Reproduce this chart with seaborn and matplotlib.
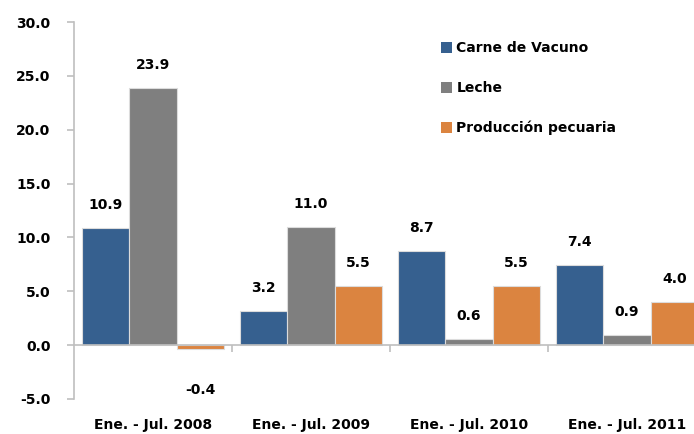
import matplotlib
matplotlib.use("Agg")
import matplotlib.pyplot as plt
import seaborn as sns
import pandas as pd

periodos = ["Ene. - Jul. 2008", "Ene. - Jul. 2009", "Ene. - Jul. 2010", "Ene. - Jul. 2011"]
series = ["Carne de Vacuno", "Leche", "Producción pecuaria"]
carne = [10.9, 3.2, 8.7, 7.4]
leche = [23.9, 11.0, 0.6, 0.9]
pecuaria = [-0.4, 5.5, 5.5, 4.0]
colores = ["#36608F", "#7F7F7F", "#DB8440"]

rows = []
for nombre, vals in zip(series, [carne, leche, pecuaria]):
    for p, v in zip(periodos, vals):
        rows.append({"periodo": p, "serie": nombre, "valor": v})
df = pd.DataFrame(rows)

sns.set_style("white")
plt.rcParams["font.family"] = ["DejaVu Sans"]
plt.rcParams["font.weight"] = "bold"
plt.rcParams["text.color"] = "black"
plt.rcParams["xtick.color"] = "black"
plt.rcParams["ytick.color"] = "black"

fig = plt.figure(figsize=(6.94, 4.34), dpi=100)
ax = fig.add_axes([74 / 694, 35 / 434, 632 / 694, 377 / 434])

sns.barplot(data=df, x="periodo", y="valor", hue="serie", palette=colores,
            width=0.9, edgecolor="#DCDCDC", linewidth=0.8, ax=ax, saturation=1)

# etiquetas de datos
for cont in ax.containers:
    for bar in cont:
        v = bar.get_height()
        x = bar.get_x() + bar.get_width() / 2
        if v >= 0:
            ax.annotate(f"{v:.1f}", (x, v), xytext=(0, 23), textcoords="offset pixels",
                        ha="center", va="center", fontsize=10, fontweight="bold")
        else:
            ax.annotate(f"{v:.1f}", (x, v), xytext=(0, -41), textcoords="offset pixels",
                        ha="center", va="center", fontsize=10, fontweight="bold")

ax.set_ylim(-5, 30)
ax.set_xlim(-0.5, 3.5)
ax.set_yticks(range(-5, 31, 5))
ax.set_yticklabels([f"{t:.1f}" for t in range(-5, 31, 5)], fontsize=10, fontweight="bold")
ax.set_xlabel("")
ax.set_ylabel("")

for s in ["top", "right"]:
    ax.spines[s].set_visible(False)
ax.spines["left"].set_color("#BFBFBF")
ax.spines["left"].set_linewidth(1.2)
ax.spines["bottom"].set_position(("data", 0))
ax.spines["bottom"].set_color("#BFBFBF")
ax.spines["bottom"].set_linewidth(1.2)
ax.tick_params(axis="y", length=5, color="#BFBFBF", labelcolor="black", width=1.2, pad=12, left=True)
ax.set_xticks([0.5, 1.5, 2.5, 3.5])
ax.set_xticklabels([])
ax.tick_params(axis="x", length=5, color="#BFBFBF", width=1.2, direction="out", bottom=True)

sec = ax.secondary_xaxis(0)
sec.set_xticks(range(len(periodos)))
sec.set_xticklabels(periodos, fontsize=10, fontweight="bold")
sec.tick_params(length=0, pad=14, labelcolor="black")
sec.spines["bottom"].set_visible(False)

leg = ax.legend(loc="upper left", bbox_to_anchor=(428 / 694, 1 - 29 / 434),
                bbox_transform=fig.transFigure, frameon=False, fontsize=10,
                handlelength=0.85, handleheight=0.85, handletextpad=0.3,
                labelspacing=1.85)
for h in leg.legend_handles:
    h.set_edgecolor("none")
for t in leg.get_texts():
    t.set_color("black")

fig.savefig("out.png", dpi=100)
